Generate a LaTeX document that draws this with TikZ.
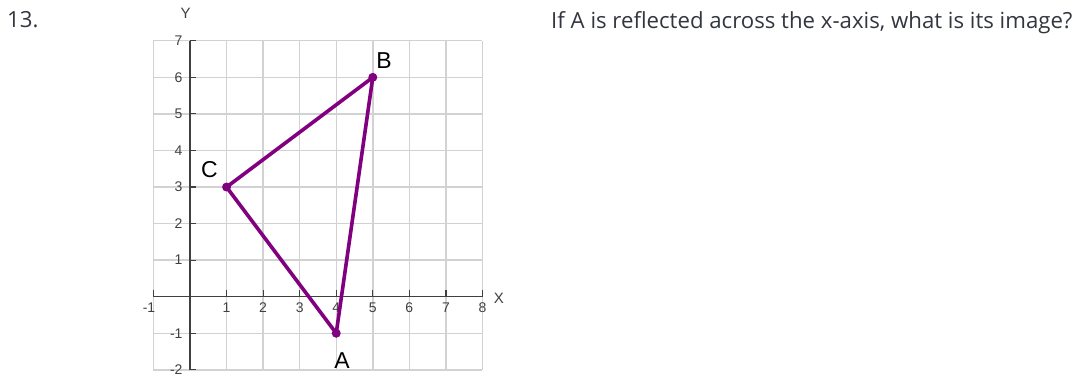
\documentclass[tikz,border=0pt]{standalone}
\usepackage{fontspec}
\setmainfont{Open Sans}
\newfontfamily\graphfont{Liberation Sans}
\definecolor{txt}{HTML}{33363F}
\definecolor{gridc}{HTML}{D2D2D2}
\definecolor{axc}{HTML}{404040}
\definecolor{purp}{HTML}{800080}
\tikzset{
  gridline/.style={draw=gridc, line width=1.4pt},
  axisline/.style={draw=axc, line width=1.5pt},
  tickline/.style={draw=axc, line width=1.2pt},
  ticklab/.style={font=\graphfont\fontsize{14}{14}\selectfont, text=axc, inner sep=0pt},
  ptlab/.style={font=\graphfont\fontsize{23}{23}\selectfont, text=black, inner sep=0pt},
  axlab/.style={font=\graphfont\fontsize{15}{15}\selectfont, text=axc, inner sep=0pt},
  tri/.style={draw=purp, line width=3.6pt, line join=round},
  dot/.style={fill=purp},
  maintext/.style={font=\fontsize{22.2}{22.2}\selectfont, text=txt, inner sep=0pt, anchor=base west}
}
\begin{document}
\begin{tikzpicture}[x=1pt,y=-1pt]
\useasboundingbox (0,0) rectangle (1081,377);
\node[maintext] (num) at (7,28) {13.};
\node[maintext] (q) at (551,28.5) {If A is reflected across the x-axis, what is its image?};
\begin{scope}[shift={(190,296.7)}, x=36.56pt, y=36.56pt]
  \foreach \i in {-1,...,8} {
    \draw[gridline] (\i,-2) -- (\i,7);
  }
  \foreach \j in {-2,...,7} {
    \draw[gridline] (-1,\j) -- (8,\j);
  }
  \draw[axisline] (-1,0) -- (8,0);
  \draw[axisline] (0,-2) -- (0,7);
  \foreach \i in {-1,1,2,3,4,5,6,7,8} {
    \draw[tickline] (\i,0) -- ++(0,0.17);
  }
  \foreach \i in {-2,-1,1,2,3,4,5,6,7} {
    \draw[tickline] (0,\i) -- ++(0.17,0);
    \node[ticklab, anchor=east] at (-0.2,\i) {\i};
  }
  \foreach \i in {1,2,3,4,5,6,7,8} {
    \node[ticklab] at (\i,-0.31) {\i};
  }
  \node[ticklab] (xm1) at (-1.12,-0.31) {-1};
  \node[axlab] (xl) at (8.45,-0.05) {X};
  \node[axlab] (yl) at (-0.12,7.75) {Y};
  \coordinate (A) at (4,-1);
  \coordinate (B) at (5,6);
  \coordinate (C) at (1,3);
  \draw[tri] (A) -- (B) -- (C) -- cycle;
  \fill[dot] (A) circle (4.5pt);
  \fill[dot] (B) circle (4.5pt);
  \fill[dot] (C) circle (4.5pt);
\end{scope}
\node[ptlab] (la) at (342,361) {A};
\node[ptlab] (lb) at (384,61) {B};
\node[ptlab] (lc) at (209.5,170) {C};
\end{tikzpicture}
\end{document}
